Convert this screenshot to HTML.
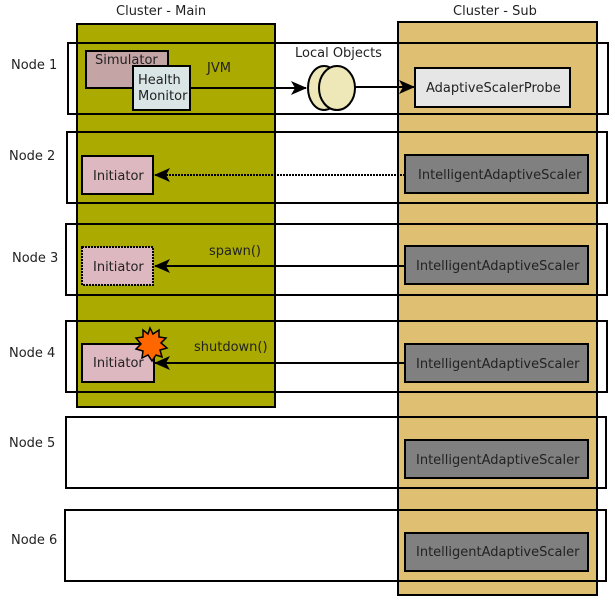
<!DOCTYPE html>
<html><head><style>body{margin:0;background:#fff}svg{display:block}text{font-family:"DejaVu Sans",sans-serif;font-size:13px;fill:#222}</style></head>
<body>
<svg width="615" height="600" xmlns="http://www.w3.org/2000/svg">
<defs><marker id="a" markerWidth="16" markerHeight="14" refX="15" refY="7" orient="auto" markerUnits="userSpaceOnUse"><path d="M0,0 L16,7 L0,14 L4,7z" fill="#000"/></marker></defs>
<rect x="77" y="24" width="198" height="383" fill="#aaaa00" stroke="#000" stroke-width="2"/>
<rect x="398" y="22" width="199" height="573" fill="#dfc073" stroke="#000" stroke-width="2"/>
<text x="116" y="15">Cluster - Main</text>
<text x="453" y="15">Cluster - Sub</text>
<g fill="none" stroke="#000" stroke-width="2">
<rect x="68" y="43" width="540" height="71"/>
<rect x="67" y="132" width="540" height="71"/>
<rect x="66" y="224" width="541" height="71"/>
<rect x="66" y="321" width="541" height="71"/>
<rect x="66" y="417" width="540" height="71"/>
<rect x="65" y="510" width="541" height="71"/>
</g>
<text x="11" y="69">Node 1</text>
<text x="9" y="160">Node 2</text>
<text x="12" y="262">Node 3</text>
<text x="9" y="357">Node 4</text>
<text x="9" y="447">Node 5</text>
<text x="11" y="544">Node 6</text>
<rect x="86" y="51" width="82" height="37" fill="#c4a4a4" stroke="#000" stroke-width="2"/>
<text x="95" y="64">Simulator</text>
<rect x="133" y="66" width="57" height="44" fill="#dae6e6" stroke="#000" stroke-width="2"/>
<text x="138" y="84">Health</text><text x="138" y="100">Monitor</text>
<text x="207" y="72">JVM</text>
<text x="295" y="57">Local Objects</text>
<line x1="190" y1="88" x2="306" y2="88" stroke="#000" stroke-width="2" marker-end="url(#a)"/>
<ellipse cx="324" cy="88" rx="16" ry="22" fill="#eee8b8" stroke="#000" stroke-width="2"/>
<ellipse cx="337" cy="88" rx="18" ry="22" fill="#eee8b8" stroke="#000" stroke-width="2"/>
<line x1="355" y1="87" x2="414" y2="87" stroke="#000" stroke-width="2" marker-end="url(#a)"/>
<rect x="415" y="68" width="155" height="39" fill="#e6e6e6" stroke="#000" stroke-width="2"/>
<text x="426" y="92">AdaptiveScalerProbe</text>
<g fill="#808080" stroke="#000" stroke-width="2">
<rect x="405" y="155" width="183" height="38"/>
<rect x="405" y="246" width="183" height="38"/>
<rect x="405" y="344" width="183" height="38"/>
<rect x="405" y="440" width="183" height="38"/>
<rect x="405" y="533" width="183" height="38"/>
</g>
<text x="418" y="179">IntelligentAdaptiveScaler</text>
<text x="416" y="270">IntelligentAdaptiveScaler</text>
<text x="416" y="368">IntelligentAdaptiveScaler</text>
<text x="416" y="464">IntelligentAdaptiveScaler</text>
<text x="416" y="556">IntelligentAdaptiveScaler</text>
<rect x="82" y="156" width="71" height="38" fill="#deb8c0" stroke="#000" stroke-width="2"/>
<text x="93" y="180">Initiator</text>
<rect x="82" y="247" width="71" height="38" fill="#deb8c0" stroke="#000" stroke-width="2" stroke-dasharray="2,1"/>
<text x="93" y="271">Initiator</text>
<rect x="82" y="344" width="72" height="38" fill="#deb8c0" stroke="#000" stroke-width="2"/>
<text x="93" y="367">Initiator</text>
<line x1="405" y1="175" x2="155" y2="175" stroke="#000" stroke-width="2" stroke-dasharray="2,1" marker-end="url(#a)"/>
<line x1="405" y1="266" x2="155" y2="266" stroke="#000" stroke-width="2" marker-end="url(#a)"/>
<line x1="405" y1="363" x2="155" y2="363" stroke="#000" stroke-width="2" marker-end="url(#a)"/>
<text x="209" y="255">spawn()</text>
<text x="194" y="351">shutdown()</text>
<polygon points="150,328 153,334 159,330 159,337 166,338 161,343 167,348 160,350 162,357 156,355 152,361 148,355 142,358 143,351 136,349 141,344 136,338 143,337 143,330 148,334" fill="#ff6600" stroke="#000" stroke-width="1.5"/>
</svg>
</body></html>
